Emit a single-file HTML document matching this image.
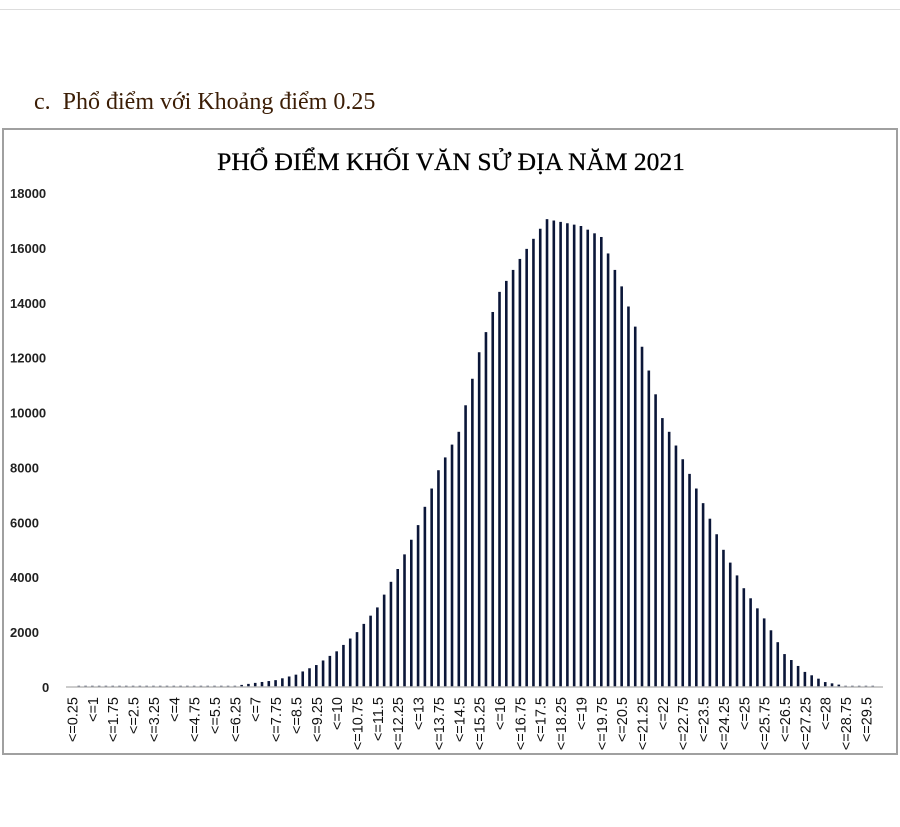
<!DOCTYPE html>
<html><head><meta charset="utf-8"><style>
body{margin:0;background:#fff;width:900px;height:827px;overflow:hidden;position:relative;font-family:"Liberation Sans",sans-serif}
.h{position:absolute;left:34px;top:89px;font-family:"Liberation Serif",serif;font-size:24px;color:#3b1d05}
.topline{position:absolute;left:0;top:9px;width:900px;height:1px;background:#ddd}
</style></head><body>
<div class="topline"></div>
<div class="h">c.&nbsp;&nbsp;Phổ điểm với Khoảng điểm 0.25</div>
<svg id="s" width="900" height="827" style="position:absolute;left:0;top:0">
<rect x="3" y="129" width="894" height="625" fill="none" stroke="#a0a0a0" stroke-width="2"/>
<text x="451" y="170" text-anchor="middle" font-family="Liberation Serif,serif" font-size="25.5" fill="#000" stroke="#000" stroke-width="0.3">PHỔ ĐIỂM KHỐI  VĂN SỬ ĐỊA NĂM 2021</text>
<g id="g"></g>
<line x1="66" y1="687" x2="883" y2="687" stroke="#bbb" stroke-width="1.5"/>
</svg>
<script>
var g=document.getElementById('g'),h='';
for(var v=0;v<=18000;v+=2000){var y=687-v/1000*27.44;h+='<text x="'+(v==0?42:10)+'" y="'+(y+5)+'" font-size="13" font-weight="bold" fill="#222" font-family="Liberation Sans,sans-serif">'+v+'</text>';}
var A=[[0.25,0],[4,10],[6.25,40],[7,150],[7.75,250],[8.5,450],[9.25,800],[10,1300],[10.75,2000],[11.5,2900],[12.25,4300],[13,5900],[13.75,7900],[14.5,9300],[15.25,12200],[16,14400],[16.75,15600],[17.5,16700],[17.75,17050],[18.25,16950],[19,16800],[19.75,16400],[20.5,14600],[21.25,12400],[22,9800],[22.75,8300],[23.5,6700],[24.25,5000],[25,3600],[25.75,2500],[26.5,1200],[27.25,550],[28,180],[28.75,40],[29.5,10],[30,0]];
function f(s){for(var i=0;i<A.length-1;i++){if(s>=A[i][0]&&s<=A[i+1][0]){var t=(s-A[i][0])/(A[i+1][0]-A[i][0]);return A[i][1]+t*(A[i+1][1]-A[i][1]);}}return 0;}
for(var i=0;i<120;i++){var s=0.25+i*0.25,x=72+i*6.786,v=f(s),hh=v/1000*27.44;if(hh<1.2&&v>0)hh=1.2;
if(v>0)h+='<rect x="'+(x-1.3)+'" y="'+(687-hh)+'" width="2.6" height="'+hh+'" fill="#0b1638"/>';
if(i%3==0&&s<=29.5)h+='<text transform="translate('+(x+5.5)+',697) rotate(-90)" text-anchor="end" font-size="14.5" fill="#111" font-family="Liberation Sans,sans-serif">&lt;='+s+'</text>';}
g.innerHTML=h;
</script>
</body></html>
